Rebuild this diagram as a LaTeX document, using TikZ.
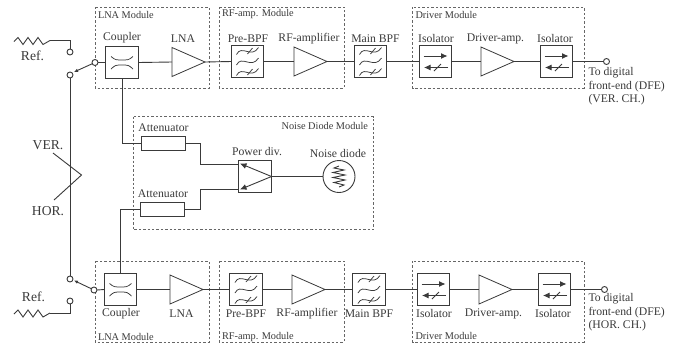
\documentclass[tikz,border=0pt]{standalone}
\usepackage{fontspec}
\setmainfont{Liberation Serif}
\usetikzlibrary{shapes.geometric,arrows.meta}
\definecolor{ink}{HTML}{3A3A3A}
\definecolor{dashc}{HTML}{666666}
\tikzset{
 x=1pt,y=-1pt,
 wire/.style={draw=ink,line width=0.9pt},
 thin wire/.style={draw=ink,line width=0.75pt},
 modrect/.style={draw=dashc,line width=0.75pt,dash pattern=on 2.4pt off 2pt},
 blockbox/.style={draw=ink,line width=0.95pt,fill=white,rectangle,minimum width=32.5pt,minimum height=32.5pt,inner sep=0,outer sep=0},
 attbox/.style={draw=ink,line width=0.95pt,fill=white,rectangle,minimum width=44pt,minimum height=14.5pt,inner sep=0,outer sep=0},
 amp/.style={draw=ink,line width=0.8pt,fill=white,isosceles triangle,isosceles triangle stretches,shape border rotate=0,minimum width=29pt,minimum height=33pt,inner sep=0,outer sep=0,anchor=west},
 term/.style={draw=ink,line width=0.9pt,fill=white,circle,minimum size=6pt,inner sep=0,outer sep=0},
 txt/.style={text=ink,font=\fontsize{11.7}{13.5}\selectfont,inner sep=0,outer sep=0},
 bigtxt/.style={text=ink,font=\fontsize{13.6}{15}\selectfont,inner sep=0,outer sep=0},
 modtxt/.style={text=ink,font=\fontsize{10.3}{12}\selectfont,inner sep=0,outer sep=0},
 tip/.style={-{Latex[length=6.5pt,width=6pt]}},
 smalltip/.style={-{Latex[length=4pt,width=3.5pt]}},
 pics/bpficon/.style={code={
  \foreach \yy in {-10.5,0,10.5}{
   \draw[thin wire] (-11,\yy+3.5) .. controls (-6,\yy-7) and (4,\yy+8) .. (11,\yy-3.5);
  }
  \foreach \yy in {-10.5,10.5}{
   \draw[thin wire] (0,\yy+3) -- (5,\yy-3);
  }}},
 pics/couplericon/.style={code={
  \draw[thin wire] (-11,-6) .. controls (-7,-2.5) and (-5,-2.5) .. (-3,-2.5) -- (3,-2.5) .. controls (5,-2.5) and (7,-2.5) .. (11,-6);
  \draw[thin wire] (-11,6.5) .. controls (-7,2.5) and (-5,2.5) .. (-3,2.5) -- (3,2.5) .. controls (5,2.5) and (7,2.5) .. (11,6.5);
 }},
 pics/isoicon/.style={code={
  \draw[wire,tip] (-12,-5.5) -- (12,-5.5);
  \draw[wire,tip] (12.5,6) -- (-11.5,6);
  \draw[thin wire] (-1.5,9.5) -- (5.5,2.5);
 }},
 pics/zigicon/.style={code={
  \draw[wire] (0,0) -- (4,-4) -- (9,3) -- (14,-4) -- (19,3) -- (24,-4) -- (29,3) -- (36,-1);
 }},
}
\begin{document}
\begin{tikzpicture}
\useasboundingbox (0,0) rectangle (681,349);
% modules
\draw[modrect] (95,7) rectangle (209,88);
\draw[modrect] (219,7) rectangle (344,88);
\draw[modrect] (412.5,7) rectangle (584,88);
\draw[modrect] (133,116.5) rectangle (373.5,229.5);
\draw[modrect] (95,261) rectangle (209,342);
\draw[modrect] (219,261) rectangle (344,342);
\draw[modrect] (412.5,261) rectangle (584,342);
% top chain
\node[blockbox] (cT) at (122,62.5) {};
\node[amp] (lT) at (172,62) {};
\node[blockbox] (pT) at (247.5,61.5) {};
\node[amp] (rT) at (294,61.5) {};
\node[blockbox] (mT) at (370.5,61.5) {};
\node[blockbox] (iT) at (435.5,61.5) {};
\node[amp] (dT) at (481,61.5) {};
\node[blockbox] (jT) at (556.5,61.5) {};
\node[term] (oT) at (606.5,61.5) {};
% bottom chain
\node[blockbox] (cB) at (120.5,289.5) {};
\node[amp] (lB) at (170,289.5) {};
\node[blockbox] (pB) at (246,289.5) {};
\node[amp] (rB) at (292,289.5) {};
\node[blockbox] (mB) at (369,289.5) {};
\node[blockbox] (iB) at (433.5,289.5) {};
\node[amp] (dB) at (479,289.5) {};
\node[blockbox] (jB) at (554.5,289.5) {};
\node[term] (oB) at (604.5,289.5) {};
% wires of the chains
\foreach \s in {T,B}{
 \draw[wire] (c\s.east) -- (l\s.west);
 \draw[wire] (l\s.apex) -- (p\s.west);
 \draw[wire] (p\s.east) -- (r\s.west);
 \draw[wire] (r\s.apex) -- (m\s.west);
 \draw[wire] (m\s.east) -- (i\s.west);
 \draw[wire] (i\s.east) -- (d\s.west);
 \draw[wire] (d\s.apex) -- (j\s.west);
 \draw[wire] (j\s.east) -- (o\s.west);
}
% icons
\foreach \n in {pT,mT,pB,mB}{\path (\n.center) pic {bpficon};}
\foreach \n in {cT,cB}{\path (\n.center) pic {couplericon};}
\foreach \n in {iT,jT,iB,jB}{\path (\n.center) pic {isoicon};}
% switches and references
\node[term] (refT) at (70,52) {};
\node[term] (swT) at (70,75) {};
\node[term] (inT) at (95,62.5) {};
\node[term] (refB) at (70,301) {};
\node[term] (swB) at (70,279) {};
\node[term] (inB) at (94,290) {};
\coordinate (zT) at (50,40);
\coordinate (zB) at (50,313);
\coordinate (armT) at (74,72);
\coordinate (armB) at (74,280.5);
\path (14,41.5) pic {zigicon};
\path (14,314) pic {zigicon};
\draw[wire] (zT) -| (refT.north);
\draw[wire] (zB) -| (refB.south);
\draw[wire,smalltip] (inT) -- (armT);
\draw[wire,smalltip] (inB) -- (armB);
\draw[wire] (inT.east) -- (cT.west);
\draw[wire] (inB.east) -- (cB.west);
\draw[wire] (swT.south) -- (swB.north);
\coordinate (vTop) at (53,153);
\coordinate (vMid) at (81.5,175);
\coordinate (vBot) at (54,200);
\draw[wire] (vTop) -- (vMid) -- (vBot);
% noise diode module
\node[attbox] (aT) at (163,143.5) {};
\node[attbox] (aB) at (162,209.5) {};
\node[blockbox] (pd) at (255,176.5) {};
\node[term,minimum size=32pt] (nd) at (339,176.5) {};
\coordinate (pdA) at (238.5,164);
\coordinate (pdB) at (238.5,189);
\coordinate (pdC) at (271.5,176.5);
\coordinate (pdTipA) at (240,163.5);
\coordinate (pdTipB) at (240,189.5);
\draw[wire] (cT.south) |- (aT.west);
\draw[wire] (cB.north) |- (aB.west);
\draw[wire] (aT.east) -- ++(15,0) |- (pdA);
\draw[wire] (aB.east) -- ++(16,0) |- (pdB);
\draw[wire,tip] (pdC) -- (pdTipA);
\draw[wire,tip] (pdC) -- (pdTipB);
\draw[wire] (pd.east) -- (nd.west);
\draw[wire] (339,166) -- (334,168) -- (344,170) -- (333,172.5) -- (345,175) -- (333,177.5) -- (345,180) -- (334,182.5) -- (344,185) -- (339,187);
% texts, top
\node[txt] (tCoupT) at (122,38) {Coupler};
\node[txt] (tLnaT) at (183,39) {LNA};
\node[txt] (tPreT) at (248,38.5) {Pre-BPF};
\node[txt] (tRfT) at (309,38.5) {RF-amplifier};
\node[txt] (tMainT) at (375.5,38.5) {Main BPF};
\node[txt] (tIsoT) at (436,38.5) {Isolator};
\node[txt] (tDrvT) at (495.5,38.5) {Driver-amp.};
\node[txt] (tIso2T) at (555,38.5) {Isolator};
\node[modtxt,anchor=west] (mLnaT) at (98,15) {LNA Module};
\node[modtxt,anchor=west] (mRfT) at (222,14.5) {RF-amp. Module};
\node[modtxt,anchor=west] (mDrvT) at (415.5,14.5) {Driver Module};
\node[txt,anchor=west] (oT1) at (588.5,73) {To digital};
\node[txt,anchor=west] (oT2) at (588.5,86.5) {front-end (DFE)};
\node[txt,anchor=west] (oT3) at (588.5,100) {(VER. CH.)};
% texts, left
\node[bigtxt] (tRefT) at (32.5,56) {Ref.};
\node[bigtxt] (tVer) at (48,145) {VER.};
\node[bigtxt] (tHor) at (48,211) {HOR.};
\node[bigtxt] (tRefB) at (33.5,297) {Ref.};
% texts, noise module
\node[modtxt,anchor=east] (mNoise) at (368,125.5) {Noise Diode Module};
\node[txt] (tAttT) at (163.5,128) {Attenuator};
\node[txt] (tAttB) at (163,194) {Attenuator};
\node[txt] (tPd) at (257,152) {Power div.};
\node[txt] (tNd) at (338,153.5) {Noise diode};
% texts, bottom
\node[txt] (tCoupB) at (121,314) {Coupler};
\node[txt] (tLnaB) at (181.5,313.5) {LNA};
\node[txt] (tPreB) at (246,313.5) {Pre-BPF};
\node[txt] (tRfB) at (307,313.5) {RF-amplifier};
\node[txt] (tMainB) at (369,313.5) {Main BPF};
\node[txt] (tIsoB) at (434,313.5) {Isolator};
\node[txt] (tDrvB) at (493.5,313.5) {Driver-amp.};
\node[txt] (tIso2B) at (553,313.5) {Isolator};
\node[modtxt,anchor=west] (mLnaB) at (98,337) {LNA Module};
\node[modtxt,anchor=west] (mRfB) at (222,337) {RF-amp. Module};
\node[modtxt,anchor=west] (mDrvB) at (415.5,336) {Driver Module};
\node[txt,anchor=west] (oB1) at (588.5,299) {To digital};
\node[txt,anchor=west] (oB2) at (588.5,312.5) {front-end (DFE)};
\node[txt,anchor=west] (oB3) at (588.5,326) {(HOR. CH.)};
\end{tikzpicture}
\end{document}
